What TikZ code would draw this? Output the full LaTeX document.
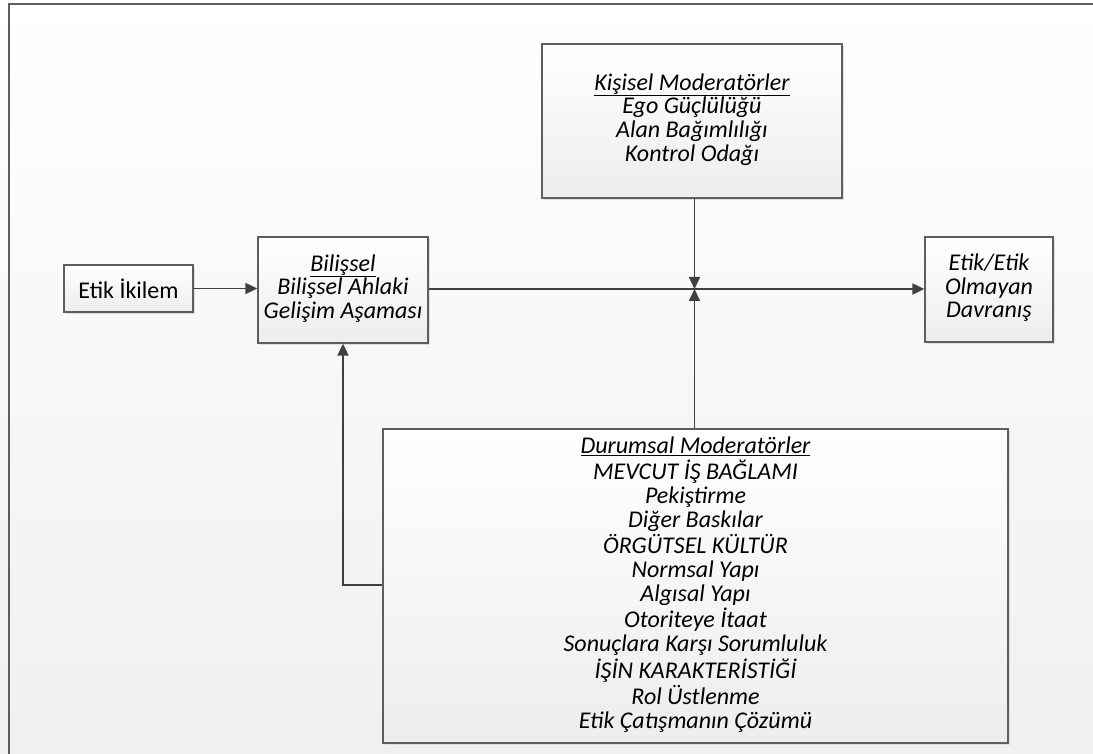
\documentclass[tikz,border=0pt]{standalone}
\usepackage{fontspec}
\setmainfont{Carlito}
\usetikzlibrary{arrows.meta,shadows}
\definecolor{linegray}{HTML}{404040}
\definecolor{boxedge}{HTML}{5E5E5E}
\tikzset{
  box/.style={draw=boxedge, line width=1.3pt, top color=white, bottom color=black!7,
    drop shadow={shadow xshift=2pt, shadow yshift=-2pt, fill=black!13, opacity=1},
    inner sep=0pt, align=center,
    font=\fontsize{24}{23.6}\selectfont\itshape},
  arr/.style={draw=linegray, line width=1.8pt, -{Triangle[length=12pt,width=11pt]}},
}
\begin{document}
\begin{tikzpicture}[x=1pt,y=-1pt]
  % page background and frame
  \useasboundingbox (0,0) rectangle (1093,754);
  \shade[top color=white, bottom color=black!6] (0,0) rectangle (1093,754);
  \draw[boxedge, line width=1.6pt] (9,754) -- (9,4) -- (1093,4);

  % boxes
  \node[box, minimum width=129pt, minimum height=47pt, font=\fontsize{24}{23.6}\selectfont]
    (ikilem) at (128.5,288.5) {Etik İkilem};
  \node[box, minimum width=170pt, minimum height=106pt]
    (bilissel) at (343,290) {\raisebox{1.5pt}{\begin{tabular}{@{}c@{}}\underline{Bilişsel}\\Bilişsel Ahlaki\\Gelişim Aşaması\end{tabular}}};
  \node[box, minimum width=300pt, minimum height=154pt]
    (kisisel) at (692,121) {\raisebox{3pt}{\begin{tabular}{@{}c@{}}\underline{Kişisel Moderatörler}\\Ego Güçlülüğü\\Alan Bağımlılığı\\Kontrol Odağı\end{tabular}}};
  \node[box, minimum width=128pt, minimum height=105pt]
    (davranis) at (989,289.5) {\begin{tabular}{@{}c@{}}Etik/Etik\\Olmayan\\Davranış\end{tabular}};
  \node[box, minimum width=625pt, minimum height=314pt]
    (durumsal) at (695.5,586) {\raisebox{5.5pt}{\begin{tabular}{@{}c@{}}
      \underline{Durumsal Moderatörler}\\
      MEVCUT İŞ BAĞLAMI\\
      Pekiştirme\\
      Diğer Baskılar\\
      ÖRGÜTSEL KÜLTÜR\\
      Normsal Yapı\\
      Algısal Yapı\\
      Otoriteye İtaat\\
      Sonuçlara Karşı Sorumluluk\\
      İŞİN KARAKTERİSTİĞİ\\
      Rol Üstlenme\\
      Etik Çatışmanın Çözümü
    \end{tabular}}};

  % junction points
  \coordinate (mid) at (694.5,289);
  \coordinate (fb) at (343,585);

  % connectors
  \draw[arr] (ikilem.east) -- (bilissel.west |- ikilem.east);
  \draw[arr] (bilissel.east |- mid) -- (davranis.west |- mid);
  \draw[arr] (kisisel.south -| mid) -- (mid);
  \draw[arr] (durumsal.north -| mid) -- (mid);
  \draw[arr] (durumsal.west |- fb) -| (bilissel.south);
\end{tikzpicture}
\end{document}
